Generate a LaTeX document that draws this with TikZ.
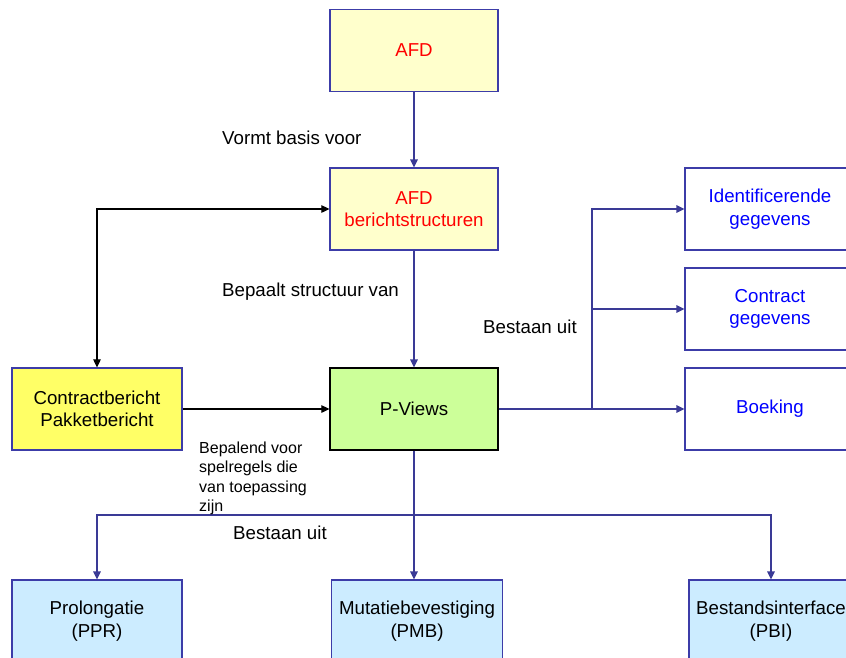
\documentclass[tikz,border=0pt]{standalone}
\usepackage{fontspec}
\setmainfont{Liberation Sans}
\usetikzlibrary{arrows.meta}
\definecolor{bord}{HTML}{3C3CA8}
\definecolor{lnblue}{HTML}{3A3A96}
\definecolor{paleyel}{HTML}{FFFFCC}
\definecolor{yel}{HTML}{FFFF66}
\definecolor{grn}{HTML}{CCFF99}
\definecolor{lblue}{HTML}{CCECFF}
\definecolor{txtblue}{HTML}{0000FF}
\definecolor{txtred}{HTML}{FF0000}
\tikzset{
  box/.style={draw=bord, line width=1.2pt, minimum width=168pt, minimum height=82pt, inner sep=0pt, align=center, font=\fontsize{18.7}{22.5}\selectfont},
  tip/.tip={Triangle[length=8pt,width=7.5pt]},
  blarrow/.style={draw=lnblue, line width=1.3pt, -tip},
  karrow/.style={draw=black, line width=1.1pt, -tip},
  lbl/.style={anchor=west, inner sep=0pt, font=\fontsize{18.7}{22.5}\selectfont},
  smalllbl/.style={anchor=north west, inner sep=0pt, align=left, font=\fontsize{16}{19.5}\selectfont}
}
\begin{document}
\begin{tikzpicture}[x=1pt,y=-1pt]
\useasboundingbox (0,0) rectangle (846,657);
\clip (0,0) rectangle (846,657);
\fill[white] (0,0) rectangle (846,657);

\node[box, fill=paleyel, text=txtred] (afd) at (414,50.5) {AFD};
\node[box, fill=paleyel, text=txtred] (afdb) at (414,209) {AFD\\berichtstructuren};
\node[box, fill=grn, draw=black] (pv) at (414,409) {P-Views};
\node[box, fill=yel, minimum width=170pt] (cb) at (97,409) {Contractbericht\\Pakketbericht};
\node[box, fill=white, text=txtblue, minimum width=170pt] (id) at (770,209) {Identificerende\\gegevens};
\node[box, fill=white, text=txtblue, minimum width=170pt] (cg) at (770,309) {Contract\\gegevens};
\node[box, fill=white, text=txtblue, minimum width=170pt] (bo) at (770,409) {Boeking};
\node[box, fill=lblue, minimum width=170pt] (pr) at (97,621) {Prolongatie\\(PPR)};
\node[box, fill=lblue, minimum width=171pt] (mb) at (417,621) {Mutatiebevestiging\\(PMB)};
\node[box, fill=lblue, minimum width=164pt] (bi) at (771,621) {Bestandsinterface\\(PBI)};

\coordinate (j1) at (592,409);
\coordinate (j2) at (414,515);

\draw[blarrow] (afd.south) -- (afdb.north);
\draw[blarrow] (afdb.south) -- (pv.north);
\draw[karrow] (cb.east) -- (pv.west);
\draw[draw=black, line width=1.1pt, tip-tip] (cb.north) |- (afdb.west);

\draw[blarrow] (pv.east) -- (bo.west);
\draw[blarrow] (j1) |- (id.west);
\draw[blarrow] (j1 |- cg.west) -- (cg.west);

\draw[blarrow] (pv.south) -- (pv.south |- mb.north);
\draw[blarrow] (j2) -| (pr.north);
\draw[blarrow] (j2) -| (bi.north);

\node[lbl] (l1) at (222,138) {Vormt basis voor};
\node[lbl] (l2) at (222,292) {Bepaalt structuur van};
\node[lbl] (l3) at (483,327) {Bestaan uit};
\node[lbl] (l4) at (233,533) {Bestaan uit};
\node[smalllbl] (l5) at (199,441.5) {Bepalend voor\\spelregels die\\van toepassing\\zijn};
\end{tikzpicture}
\end{document}
